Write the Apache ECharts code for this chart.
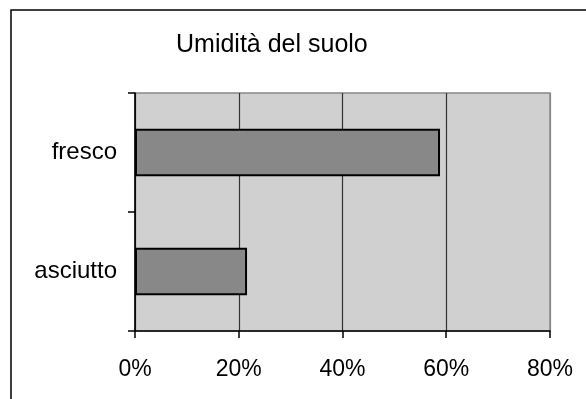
<!DOCTYPE html>
<html>
<head>
<meta charset="utf-8">
<script src="https://cdn.jsdelivr.net/npm/echarts@6/dist/echarts.min.js"></script>
<style>
  html, body { margin: 0; padding: 0; background: #fff; }
  #chart { width: 586px; height: 399px; }
</style>
</head>
<body>
<div id="chart"></div>
<script>
// categorie dal basso verso l'alto
const categories = ['asciutto', 'fresco'];
const values = [0.216, 0.588];
const xTicks = [0, 0.2, 0.4, 0.6, 0.8];

const chart = echarts.init(document.getElementById('chart'));

const font = 'Liberation Sans, Arial, sans-serif';

const option = {
  backgroundColor: '#fff',
  animation: false,
  title: {
    text: 'Umidità del suolo',
    left: 176,
    top: 33,
    padding: 0,
    textStyle: { fontFamily: font, fontSize: 25, fontWeight: 'normal', color: '#000' }
  },
  graphic: [{
    type: 'rect',
    shape: { x: 11, y: 10, width: 620, height: 430 },
    style: { fill: 'none', stroke: '#000', lineWidth: 1.5 },
    silent: true
  }],
  grid: {
    left: 135, top: 93, right: 36, bottom: 68,
    show: true,
    backgroundColor: '#d0d0d0',
    borderColor: '#888',
    borderWidth: 1.5
  },
  xAxis: {
    type: 'value',
    min: xTicks[0],
    max: xTicks[xTicks.length - 1],
    interval: 0.2,
    axisLine: { show: true, lineStyle: { color: '#000', width: 1.5 } },
    axisTick: { show: true, length: 7, lineStyle: { color: '#000', width: 1.5 } },
    splitLine: { show: true, lineStyle: { color: ['#333', '#333', '#333', '#333', '#888'], width: 1.2 } },
    axisLabel: {
      fontFamily: font, fontSize: 23, color: '#000', margin: 27,
      formatter: v => Math.round(v * 100) + '%'
    }
  },
  yAxis: {
    type: 'category',
    data: categories,
    axisLine: { show: true, lineStyle: { color: '#000', width: 1.5 } },
    axisTick: { show: true, length: 7, lineStyle: { color: '#000', width: 1.5 } },
    splitLine: { show: false },
    axisLabel: { fontFamily: font, fontSize: 24, color: '#000', margin: 18 }
  },
  series: [{
    type: 'bar',
    data: values,
    barWidth: '40%',
    itemStyle: { color: '#888', borderColor: '#000', borderWidth: 2 }
  }]
};

chart.setOption(option);
</script>
</body>
</html>
